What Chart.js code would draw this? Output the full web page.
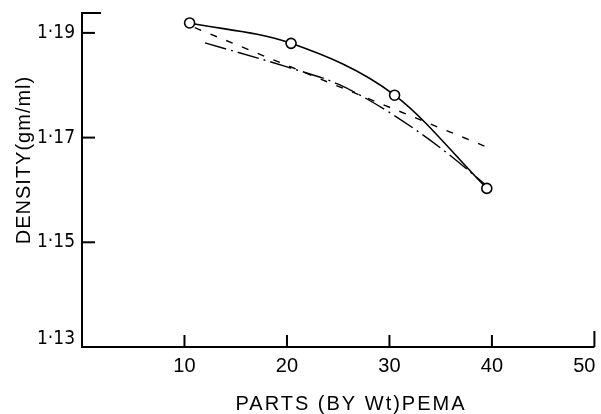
<!DOCTYPE html>
<html lang="en">
<head>
    <meta charset="UTF-8">
    <title>Density vs parts PEMA</title>
    <script src="https://cdn.jsdelivr.net/npm/chart.js"></script>
    <style>
        html, body { margin: 0; padding: 0; background: #fff; }
        #densityChart { display: block; }
    </style>
</head>
<body>
    <canvas id="densityChart" width="601" height="414"></canvas>

    <script>
        // values
        const xTicks = [10, 20, 30, 40, 50];
        const yTicks = [1.13, 1.15, 1.17, 1.19];
        const yTickLabels = ['1·13', '1·15', '1·17', '1·19'];
        const xTitle = 'PARTS (BY Wt)PEMA';
        const yTitle = 'DENSITY(gm/ml)';

        const partsMeasured = [10.5, 20.4, 30.5, 39.5];
        const densityMeasured = [1.1919, 1.1880, 1.1781, 1.1603];

        const partsDashed = [11, 40];
        const densityDashed = [1.1910, 1.1678];

        const partsDashDot = [12, 20, 25, 30, 35, 39.5];
        const densityDashDot = [1.1881, 1.1835, 1.1802, 1.1748, 1.1680, 1.1608];

        const xMin = 0, xMax = 50;
        const yMin = 1.13, yMax = 1.1938;

        const toPoints = (xs, ys) => xs.map((v, i) => ({ x: v, y: ys[i] }));

        const axesPlugin = {
            id: 'paperAxes',
            afterDraw(chart) {
                const { ctx, scales: { x, y } } = chart;
                const left = x.getPixelForValue(xMin);
                const right = x.getPixelForValue(xMax);
                const bottom = y.getPixelForValue(yMin);
                const top = y.getPixelForValue(yMax);

                ctx.save();
                ctx.strokeStyle = '#000';
                ctx.lineWidth = 2;
                ctx.lineCap = 'butt';

                // axis lines (with the short stub at the top)
                ctx.beginPath();
                ctx.moveTo(left + 19, top);
                ctx.lineTo(left, top);
                ctx.lineTo(left, bottom);
                ctx.lineTo(right, bottom);
                ctx.stroke();

                // y ticks point inward
                yTicks.forEach(v => {
                    const py = y.getPixelForValue(v);
                    ctx.beginPath();
                    ctx.moveTo(left, py);
                    ctx.lineTo(left + 13, py);
                    ctx.stroke();
                });
                // x ticks point upward
                xTicks.forEach(v => {
                    const px = x.getPixelForValue(v);
                    ctx.beginPath();
                    ctx.moveTo(px, bottom);
                    ctx.lineTo(px, bottom - (v === 50 ? 16 : 12));
                    ctx.stroke();
                });

                ctx.fillStyle = '#000';
                // y tick labels
                ctx.font = '19px "Liberation Sans Narrow", "DejaVu Sans Condensed", "Liberation Sans", sans-serif';
                ctx.textAlign = 'right';
                ctx.textBaseline = 'middle';
                yTicks.forEach((v, i) => {
                    let py = y.getPixelForValue(v);
                    if (i === 0) py -= 8;
                    ctx.fillText(yTickLabels[i], left - 7, py);
                });

                // x tick labels
                ctx.font = '20px "Liberation Sans", sans-serif';
                ctx.textBaseline = 'middle';
                xTicks.forEach((v, i) => {
                    const px = x.getPixelForValue(v);
                    if (i === xTicks.length - 1) {
                        ctx.textAlign = 'right';
                        ctx.fillText(String(v), px + 1, bottom + 19);
                    } else {
                        ctx.textAlign = 'center';
                        ctx.fillText(String(v), px, bottom + 19);
                    }
                });

                // axis titles
                ctx.font = '20px "Liberation Sans", sans-serif';
                ctx.letterSpacing = '2px';
                ctx.textAlign = 'center';
                ctx.fillText(xTitle, 351, 404);

                ctx.translate(24, 160);
                ctx.rotate(-Math.PI / 2);
                ctx.letterSpacing = '1px';
                ctx.fillText(yTitle, 0, 0);
                ctx.restore();
            }
        };

        new Chart(document.getElementById('densityChart'), {
            type: 'scatter',
            data: {
                datasets: [
                    {
                        label: 'measured',
                        data: toPoints(partsMeasured, densityMeasured),
                        showLine: true,
                        borderColor: '#000',
                        borderWidth: 1.6,
                        cubicInterpolationMode: 'monotone',
                        pointRadius: 5,
                        pointBorderWidth: 1.6,
                        pointBackgroundColor: '#fff',
                        pointBorderColor: '#000',
                        clip: false
                    },
                    {
                        label: 'dashed',
                        data: toPoints(partsDashed, densityDashed),
                        showLine: true,
                        borderColor: '#000',
                        borderWidth: 1.4,
                        borderDash: [7, 10],
                        pointRadius: 0
                    },
                    {
                        label: 'dash-dot',
                        data: toPoints(partsDashDot, densityDashDot),
                        showLine: true,
                        borderColor: '#000',
                        borderWidth: 1.4,
                        borderDash: [22, 5, 2, 5],
                        cubicInterpolationMode: 'monotone',
                        pointRadius: 0
                    }
                ]
            },
            options: {
                responsive: false,
                animation: false,
                devicePixelRatio: 1,
                layout: { padding: { left: 82, right: 6, top: 13, bottom: 67 } },
                scales: {
                    x: { type: 'linear', min: xMin, max: xMax, display: false },
                    y: { type: 'linear', min: yMin, max: yMax, display: false }
                },
                plugins: {
                    legend: { display: false },
                    tooltip: { enabled: false }
                }
            },
            plugins: [axesPlugin]
        });
    </script>
</body>
</html>
